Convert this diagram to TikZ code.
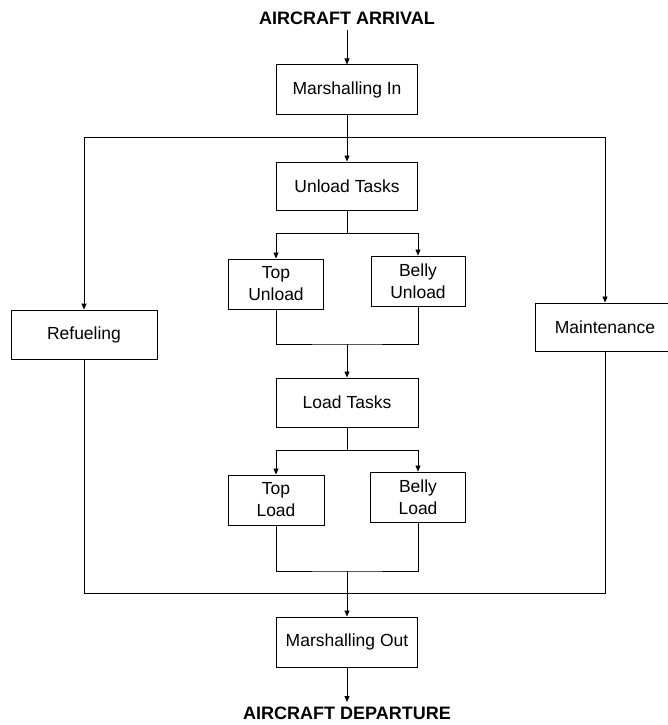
\documentclass[tikz,border=0pt]{standalone}
\usepackage{fontspec}
\setmainfont{Liberation Sans}
\usetikzlibrary{arrows.meta}
\begin{document}
\begin{tikzpicture}[x=1pt,y=-1pt,
  box/.style={draw,line width=1pt,minimum width=#1,inner sep=0pt,align=center,
    font=\fontsize{17.5}{22}\selectfont},
  box/.default=141pt,
  title/.style={font=\bfseries\fontsize{18}{20}\selectfont,inner sep=0pt},
  conn/.style={line width=0.9pt},
  arr/.style={conn,-{Triangle[length=6pt,width=5pt]}}]
\useasboundingbox (0,0) rectangle (667,725);
\node[title] (arrival) at (347,18) {AIRCRAFT ARRIVAL};
\node[box,minimum height=49pt] (mi) at (347,89.5) {Marshalling In};
\node[box,minimum height=48pt] (ut) at (347,186) {Unload Tasks};
\node[box=95pt,minimum height=50pt] (tu) at (276,284) {Top\\Unload};
\node[box=94pt,minimum height=50pt] (bu) at (418,281) {Belly\\Unload};
\node[box=142pt,minimum height=49pt] (lt) at (347,402.5) {Load Tasks};
\node[box=96pt,minimum height=50pt] (tl) at (276,500) {Top\\Load};
\node[box=95pt,minimum height=50pt] (bl) at (418,497) {Belly\\Load};
\node[box=146pt,minimum height=49pt] (ref) at (84,334.5) {Refueling};
\node[box=140pt,minimum height=48pt] (mnt) at (605,327) {Maintenance};
\node[box,minimum height=50pt] (mo) at (347,642) {Marshalling Out};
\node[title] (dep) at (347,713) {AIRCRAFT DEPARTURE};
% coordinates
\coordinate (arrtop) at (347,30);
\coordinate (topL) at (84,137);
\coordinate (topR) at (605,137);
\coordinate (botL) at (84,593);
\coordinate (botR) at (605,593);
\coordinate (us) at (347,233);
\coordinate (um) at (347,344);
\coordinate (ls) at (347,450);
\coordinate (lm) at (347,571);
\coordinate (depend) at (347,702);
% connectors
\draw[arr] (arrtop) -- (mi.north);
\draw[arr] (mi.south) -- (ut.north);
\draw[conn] (topL) -- (topR);
\draw[arr] (topL) -- (ref.north);
\draw[arr] (topR) -- (mnt.north);
\draw[conn] (ut.south) -- (us);
\draw[arr] (us) -| (tu.north);
\draw[arr] (us) -| (bu.north);
\draw[conn] (tu.south) |- (um) -| (bu.south);
\draw[arr] (um) -- (lt.north);
\draw[conn] (lt.south) -- (ls);
\draw[arr] (ls) -| (tl.north);
\draw[arr] (ls) -| (bl.north);
\draw[conn] (tl.south) |- (lm) -| (bl.south);
\draw[arr] (lm) -- (mo.north);
\draw[conn] (ref.south) -- (botL) -- (botR) -- (mnt.south);
\draw[arr] (mo.south) -- (depend);
\end{tikzpicture}
\end{document}
